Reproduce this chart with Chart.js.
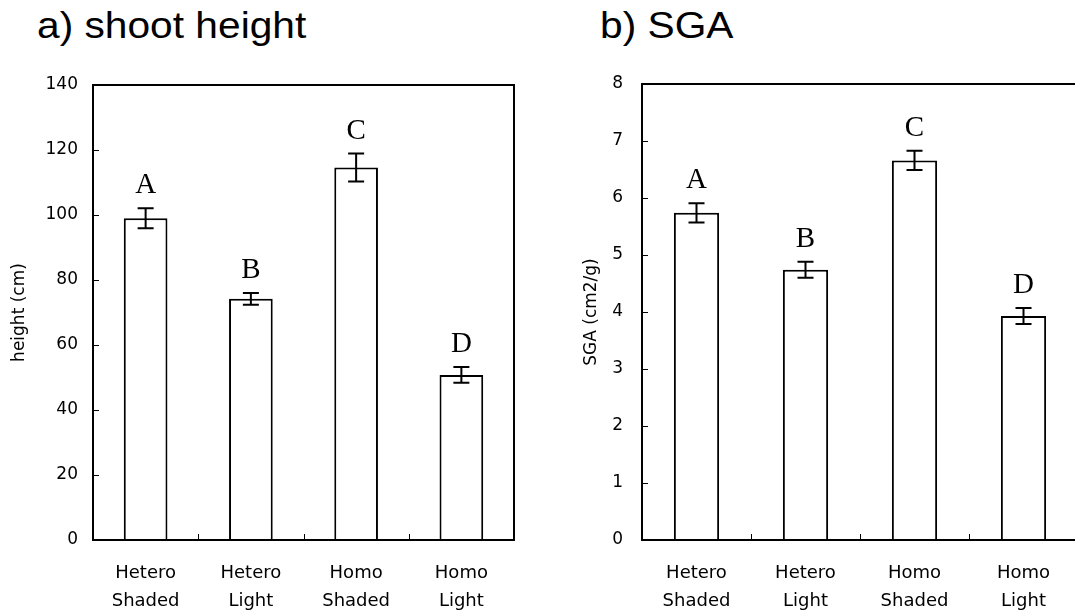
<!DOCTYPE html>
<html>
<head>
<meta charset="utf-8">
<script src="https://cdn.jsdelivr.net/npm/chart.js@4.4.1/dist/chart.umd.min.js"></script>
<style>
  html, body { margin: 0; padding: 0; background: #fff; overflow: hidden; width: 1075px; height: 613px; }
  .panel { position: absolute; top: 0; }
  .title {
    position: absolute; top: 7px; font-family: "Liberation Sans", Arial, sans-serif;
    font-size: 37px; line-height: 37px; color: #000; white-space: nowrap;
    transform: scaleX(1.1); transform-origin: left top;
  }
</style>
</head>
<body>
<div class="title" style="left:37px">a) shoot height</div>
<div class="title" style="left:600px">b) SGA</div>
<div class="panel" style="left:0; width:540px; height:613px"><canvas id="chart-height"></canvas></div>
<div class="panel" style="left:540px; width:570px; height:613px"><canvas id="chart-sga"></canvas></div>
<script>
// valeurs
const categories = [['Hetero', 'Shaded'], ['Hetero', 'Light'], ['Homo', 'Shaded'], ['Homo', 'Light']];
const groupLetters = ['A', 'B', 'C', 'D'];

const heightMeans = [99, 74.2, 114.6, 50.8];
const heightErrors = [3.1, 1.8, 4.3, 2.4];
const heightMax = 140, heightStep = 20;

const sgaMeans = [5.74, 4.74, 6.66, 3.93];
const sgaErrors = [0.17, 0.14, 0.17, 0.14];
const sgaMax = 8, sgaStep = 1;

const tickFont = { family: 'DejaVu Sans', size: 17 };
const catFont = { family: 'DejaVu Sans', size: 18, lineHeight: 1.6 };

// cadre, petites graduations, barres d'erreur et lettres
const decorPlugin = {
  id: 'decor',
  afterDatasetsDraw(chart, args, opts) {
    const { ctx, chartArea: a, scales: { x, y } } = chart;
    ctx.save();
    ctx.strokeStyle = '#000';
    ctx.lineWidth = 2;
    ctx.beginPath();
    ctx.moveTo(a.left, a.top - 1);
    ctx.lineTo(a.left, a.bottom + 1);
    ctx.moveTo(a.left - 1, a.top);
    ctx.lineTo(a.right + 1, a.top);
    ctx.moveTo(a.left - 1, a.bottom);
    ctx.lineTo(a.right + 1, a.bottom);
    ctx.moveTo(a.right, a.top); ctx.lineTo(a.right, a.bottom);
    ctx.stroke();

    ctx.lineWidth = 1;
    ctx.beginPath();
    y.ticks.forEach(t => {
      const py = Math.round(y.getPixelForValue(t.value)) + 0.5;
      ctx.moveTo(a.left, py); ctx.lineTo(a.left + 6, py);
    });
    for (let i = 0; i < x.ticks.length - 1; i++) {
      const px = Math.round((x.getPixelForTick(i) + x.getPixelForTick(i + 1)) / 2) + 0.5;
      ctx.moveTo(px, a.bottom); ctx.lineTo(px, a.bottom - 6);
    }
    ctx.stroke();

    const meta = chart.getDatasetMeta(0);
    const ds = chart.data.datasets[0];
    ctx.lineWidth = 2;
    ctx.font = '29px "Liberation Serif", "Times New Roman", serif';
    ctx.textAlign = 'center';
    ctx.textBaseline = 'alphabetic';
    ctx.fillStyle = '#000';
    meta.data.forEach((bar, i) => {
      const v = ds.data[i], e = ds.errors[i];
      const top = y.getPixelForValue(v + e), bot = y.getPixelForValue(v - e);
      ctx.beginPath();
      ctx.moveTo(bar.x, top); ctx.lineTo(bar.x, bot);
      ctx.moveTo(bar.x - 8, top); ctx.lineTo(bar.x + 8, top);
      ctx.moveTo(bar.x - 8, bot); ctx.lineTo(bar.x + 8, bot);
      ctx.stroke();
      ctx.fillText(groupLetters[i], bar.x, top - 15);
    });
    ctx.restore();
  }
};

function makeChart(id, means, errors, yMax, yStep, yTitle, lay) {
  return new Chart(document.getElementById(id), {
    type: 'bar',
    data: {
      labels: categories,
      datasets: [{
        data: means, errors: errors,
        backgroundColor: '#fff', borderColor: '#000', borderWidth: 2,
        barPercentage: 0.415, categoryPercentage: 1
      }]
    },
    options: {
      responsive: true, maintainAspectRatio: false, animation: false,
      layout: { padding: { top: lay.top, right: lay.right, bottom: 0, left: 0 } },
      plugins: { legend: { display: false }, tooltip: { enabled: false } },
      scales: {
        x: {
          grid: { display: false, drawTicks: false }, border: { display: false },
          ticks: { color: '#000', font: catFont, padding: 18.5, maxRotation: 0 },
          afterFit: s => { s.height = 73; }
        },
        y: {
          min: 0, max: yMax,
          grid: { display: false, drawTicks: false }, border: { display: false },
          ticks: { stepSize: yStep, color: '#000', font: tickFont, padding: lay.tickPad },
          title: { display: true, text: yTitle, color: '#000', font: tickFont, padding: { top: lay.titlePad, bottom: 0 } },
          afterFit: s => { s.width = lay.axisW; }
        }
      }
    },
    plugins: [decorPlugin]
  });
}

makeChart('chart-height', heightMeans, heightErrors, heightMax, heightStep, 'height (cm)',
  { top: 85, right: 26, axisW: 93, tickPad: 15, titlePad: 9 });
makeChart('chart-sga', sgaMeans, sgaErrors, sgaMax, sgaStep, 'SGA (cm2/g)',
  { top: 84, right: 32, axisW: 102, tickPad: 19, titlePad: 41 });
</script>
</body>
</html>
